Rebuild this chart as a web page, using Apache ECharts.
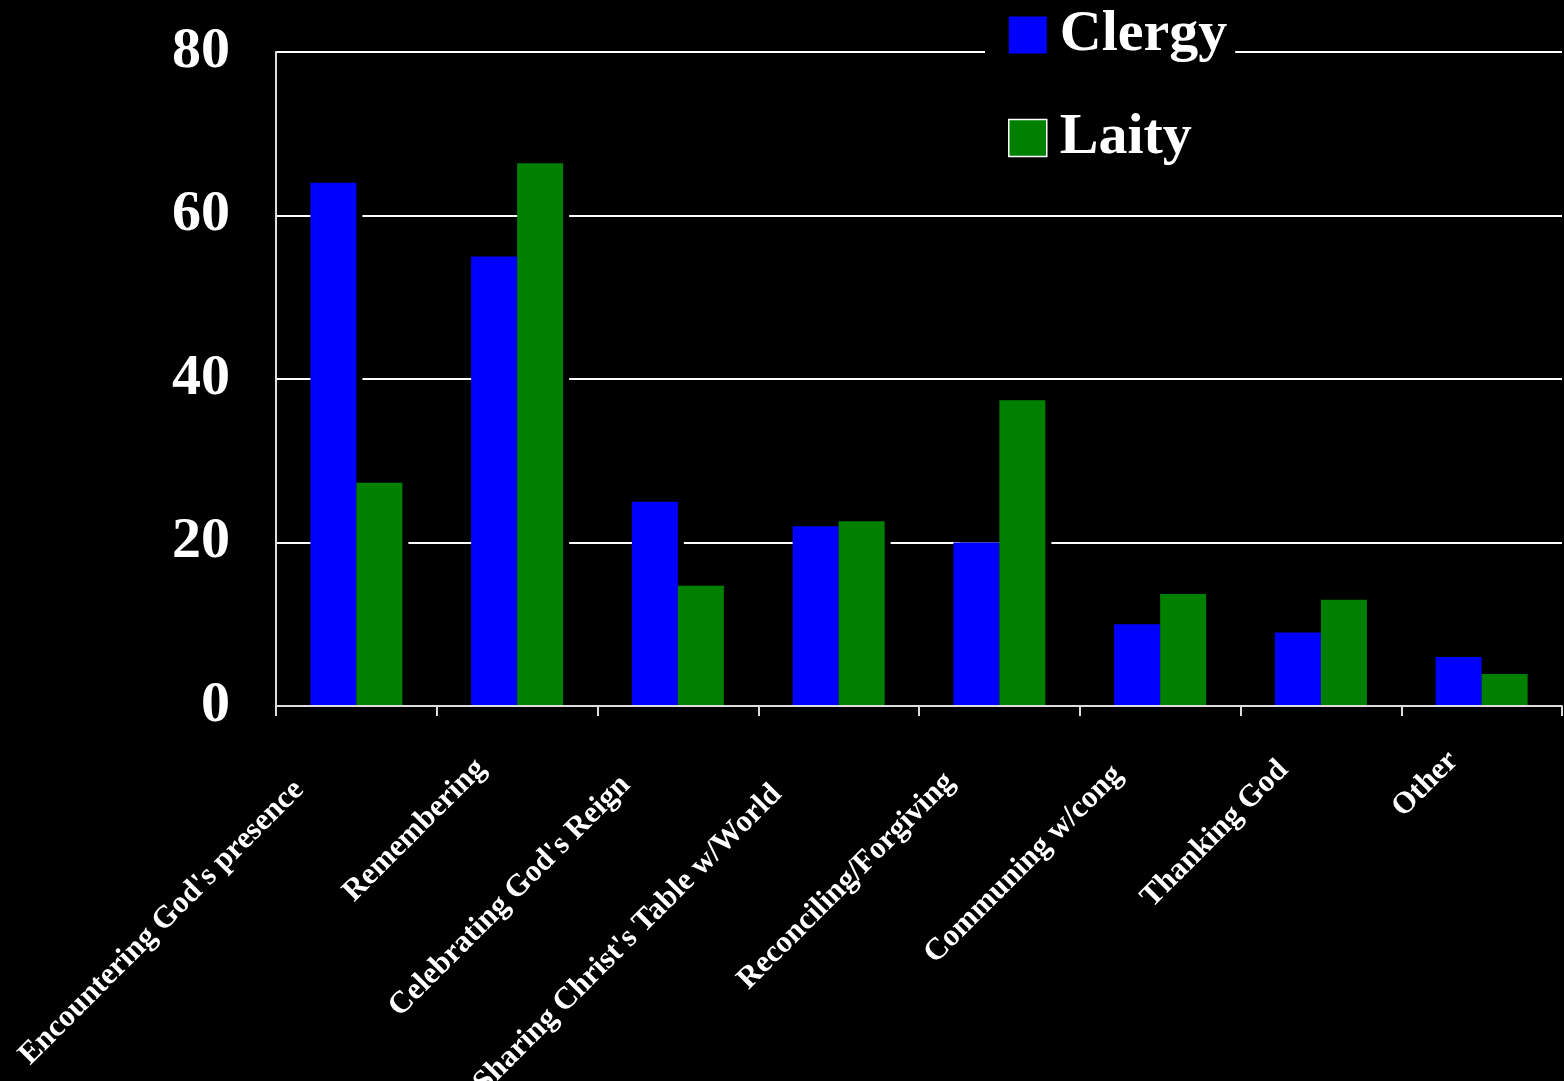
<!DOCTYPE html>
<html>
<head>
<meta charset="utf-8">
<script src="https://cdn.jsdelivr.net/npm/echarts@6/dist/echarts.min.js"></script>
<style>
html,body{margin:0;padding:0;background:#000;}
#chart{width:1564px;height:1081px;}
</style>
</head>
<body>
<div id="chart"></div>
<script>
var categories = ["Encountering God's presence", "Remembering", "Celebrating God's Reign", "Sharing Christ's Table w/World", "Reconciling/Forgiving", "Communing w/cong", "Thanking God", "Other"];
var clergy = [64, 55, 25, 22, 20, 10, 9, 6];
var laity = [27.3, 66.4, 14.7, 22.6, 37.4, 13.7, 13, 3.9];
var yTicks = [0, 20, 40, 60, 80];

var serif = "'Liberation Serif', 'Times New Roman', serif";
// rotated labels end a bit further left for longer names (as in the original layout)
var catData = categories.map(function (c) {
  return { value: c, textStyle: { padding: [0, Math.round(30 + 1.9 * c.length), 0, 0] } };
});

var chart = echarts.init(document.getElementById('chart'));
chart.setOption({
  backgroundColor: '#000',
  animation: false,
  grid: { left: 276, right: 2, top: 52, bottom: 375, containLabel: false, outerBoundsMode: 'none' },
  legend: {
    orient: 'vertical',
    left: 985,
    top: 0,
    padding: [0, 8, 0, 23],
    backgroundColor: '#000',
    itemWidth: 38,
    itemHeight: 37,
    itemGap: 33,
    icon: 'rect',
    textStyle: { color: '#fff', fontSize: 58, lineHeight: 60, fontWeight: 'bold', fontFamily: serif, padding: [10, 0, 0, 8] },
    data: [
      { name: 'Clergy' },
      { name: 'Laity', itemStyle: { borderColor: '#fff', borderWidth: 1.5 } }
    ]
  },
  xAxis: {
    type: 'category',
    data: catData,
    z: 3,
    boundaryGap: true,
    axisLine: { show: true, lineStyle: { color: '#ddd', width: 2 } },
    axisTick: { show: true, length: 10, lineStyle: { color: '#ddd', width: 2 } },
    axisLabel: {
      interval: 0, rotate: 45, color: '#fff', fontSize: 31, fontWeight: 'bold', fontFamily: serif,
      margin: 22, hideOverlap: false
    },
    splitLine: { show: false }
  },
  yAxis: {
    type: 'value',
    min: yTicks[0], max: yTicks[yTicks.length - 1], interval: 20,
    axisLine: { show: true, lineStyle: { color: '#ddd', width: 2 } },
    axisTick: { show: false },
    axisLabel: { color: '#fff', fontSize: 58, fontWeight: 'bold', fontFamily: serif, margin: 46 },
    splitLine: { show: true, lineStyle: { color: '#fff', width: 2 } }
  },
  series: [
    { name: 'Clergy', type: 'bar', data: clergy, barWidth: 46, barGap: '0%',
      itemStyle: { color: '#0000ff', shadowColor: '#000', shadowOffsetX: 6, shadowOffsetY: 0, shadowBlur: 0 } },
    { name: 'Laity', type: 'bar', data: laity, barWidth: 46, barGap: '0%',
      itemStyle: { color: '#008000', shadowColor: '#000', shadowOffsetX: 6, shadowOffsetY: 0, shadowBlur: 0 } }
  ]
});
</script>
</body>
</html>
